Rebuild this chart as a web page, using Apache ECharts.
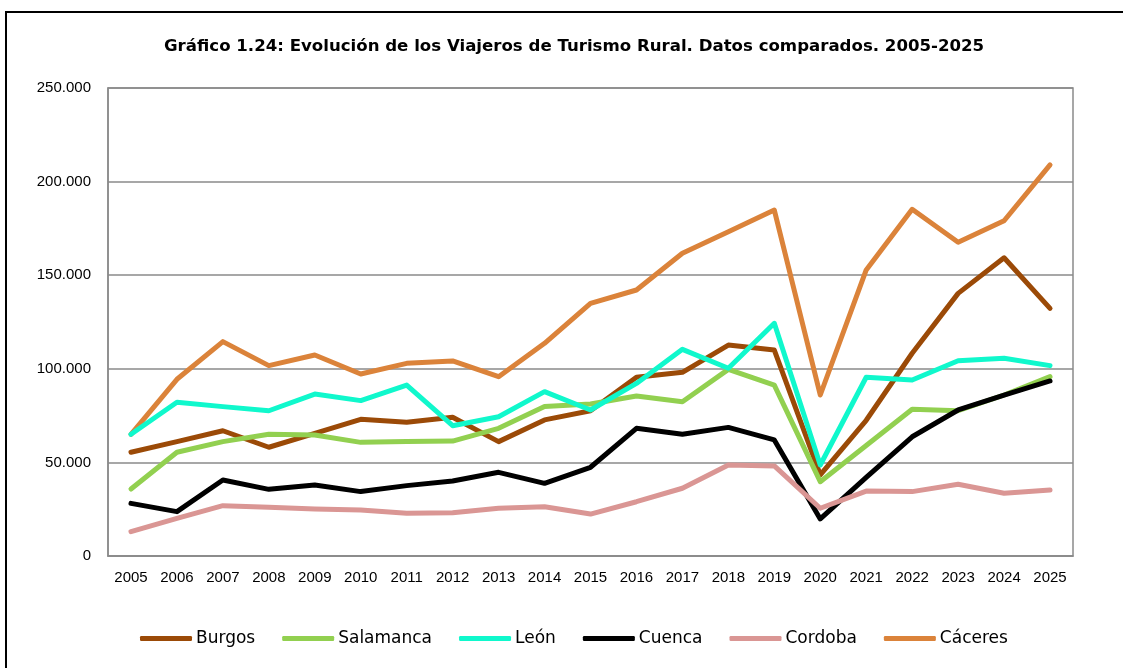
<!DOCTYPE html>
<html>
<head>
<meta charset="utf-8">
<script src="https://cdn.jsdelivr.net/npm/echarts@6/dist/echarts.min.js"></script>
<style>
  html, body { margin: 0; padding: 0; background: #fff; }
  #chart { width: 1123px; height: 668px; }
</style>
</head>
<body>
<div id="chart"></div>
<script>
// años y series (viajeros)
var years = ['2005', '2006', '2007', '2008', '2009', '2010', '2011', '2012', '2013', '2014', '2015',
  '2016', '2017', '2018', '2019', '2020', '2021', '2022', '2023', '2024', '2025'];

var burgos = [55400, 61100, 66900, 58100, 65500, 73000, 71400, 74100, 61100, 72700, 77600,
  95500, 98100, 112700, 110000, 43300, 72500, 108300, 140300, 159300, 132300];
var salamanca = [35800, 55400, 61100, 65000, 64600, 60700, 61100, 61400, 68200, 79800, 81200,
  85500, 82400, 99700, 91300, 39700, 59000, 78400, 77600, 86000, 95800];
var leon = [65000, 82100, 79800, 77600, 86500, 83000, 91300, 69600, 74400, 87800, 78000,
  92200, 110400, 100300, 124300, 48600, 95500, 94000, 104300, 105600, 101700];
var cuenca = [28100, 23700, 40600, 35600, 37900, 34400, 37600, 40100, 44700, 38800, 47400,
  68200, 65000, 68700, 62000, 19800, 42000, 63700, 78000, 86000, 93500];
var cordoba = [13000, 20100, 26900, 26000, 25100, 24600, 22800, 23100, 25500, 26300, 22400,
  29000, 36200, 48600, 48100, 25500, 34700, 34400, 38300, 33500, 35300];
var caceres = [65000, 94400, 114500, 101700, 107400, 97200, 102900, 104200, 95800, 113600, 135000,
  142100, 161700, 173200, 184800, 86000, 152800, 185200, 167600, 179100, 208900];

var seriesNames = ['Burgos', 'Salamanca', 'León', 'Cuenca', 'Cordoba', 'Cáceres'];
var seriesData = [burgos, salamanca, leon, cuenca, cordoba, caceres];
var colors = ['#9b4a07', '#92d050', '#10f8cc', '#000000', '#da9694', '#db833a'];

function fmtMiles(v) {
  return String(v).replace(/\B(?=(\d{3})+(?!\d))/g, '.');
}

var chart = echarts.init(document.getElementById('chart'));

var series = seriesNames.map(function (name, i) {
  return {
    name: name,
    type: 'line',
    data: seriesData[i],
    symbol: 'none',
    z: i === 5 ? 1 : 2,
    lineStyle: { color: colors[i], width: 5, cap: 'round', join: 'round' },
    itemStyle: { color: colors[i] }
  };
});

chart.setOption({
  animation: false,
  backgroundColor: '#fff',
  color: colors,
  title: {
    text: 'Gráfico 1.24: Evolución de los Viajeros de Turismo Rural. Datos comparados. 2005-2025',
    left: 159,
    top: 33,
    textStyle: {
      fontFamily: 'DejaVu Sans',
      fontWeight: 'bold',
      fontSize: 16.6,
      color: '#000'
    }
  },
  graphic: [{
    type: 'rect',
    shape: { x: 6, y: 12, width: 1140, height: 700 },
    style: { fill: 'none', stroke: '#000', lineWidth: 2 },
    silent: true
  }],
  legend: {
    bottom: 16,
    left: 135,
    icon: 'roundRect',
    itemWidth: 52,
    itemHeight: 5,
    itemGap: 27,
    textStyle: { fontFamily: 'DejaVu Sans', fontSize: 17, color: '#000', padding: [0, 0, 0, -1] },
    data: seriesNames
  },
  grid: {
    left: 108,
    right: 50,
    top: 88,
    bottom: 112,
    show: true,
    borderColor: '#8a8a8a',
    borderWidth: 1.5,
    containLabel: false
  },
  xAxis: {
    type: 'category',
    data: years,
    boundaryGap: true,
    axisLine: { lineStyle: { color: '#8a8a8a', width: 1.5 } },
    axisTick: { show: false },
    axisLabel: {
      fontFamily: '"Liberation Sans", Arial, sans-serif',
      fontSize: 15,
      color: '#000',
      margin: 14,
      interval: 0
    }
  },
  yAxis: {
    type: 'value',
    min: 0,
    max: 250000,
    interval: 50000,
    axisLine: { show: true, lineStyle: { color: '#8a8a8a', width: 1.5 } },
    axisTick: { show: false },
    splitLine: { lineStyle: { color: '#8a8a8a', width: 1.5 } },
    axisLabel: {
      fontFamily: '"Liberation Sans", Arial, sans-serif',
      fontSize: 15,
      color: '#000',
      margin: 17,
      formatter: fmtMiles
    }
  },
  series: series
});
</script>
</body>
</html>
